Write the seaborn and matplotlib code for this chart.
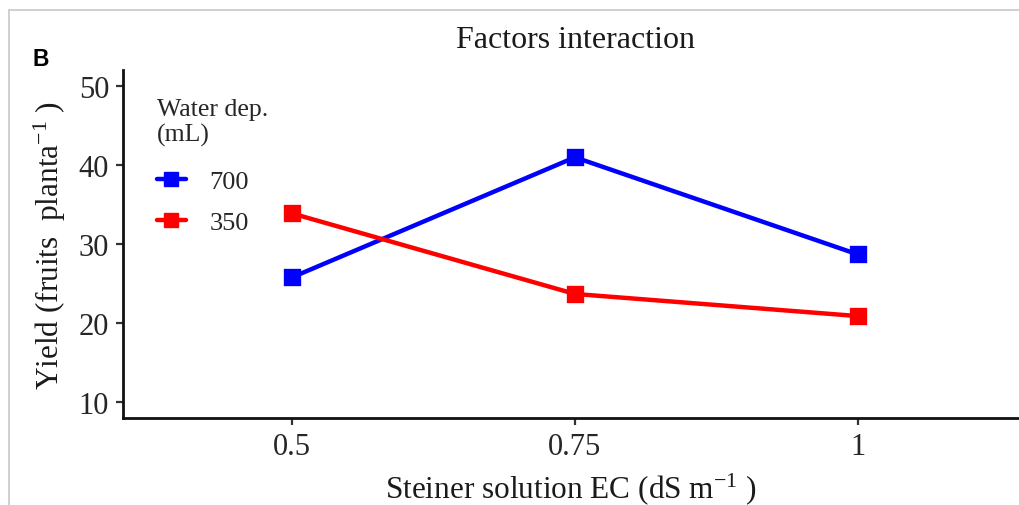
import matplotlib
matplotlib.use("Agg")
import matplotlib.pyplot as plt
from matplotlib.lines import Line2D
import seaborn as sns
import pandas as pd

# Steiner solution EC levels (dS m-1) and fruit yield per water depth
ec_levels = ["0.5", "0.75", "1"]
water_levels = ["700", "350"]
yield_700 = [25.8, 41.0, 28.7]
yield_350 = [33.9, 23.7, 20.9]
series_colors = {"700": "#0000ff", "350": "#ff0000"}

df = pd.DataFrame({
    "EC": ec_levels * 2,
    "Water": ["700"] * 3 + ["350"] * 3,
    "Yield": yield_700 + yield_350,
})

sns.set_theme(style="ticks")
plt.rcParams["font.family"] = ["Liberation Serif", "DejaVu Serif"]
plt.rcParams["mathtext.fontset"] = "custom"
plt.rcParams["mathtext.rm"] = "Liberation Serif"
plt.rcParams["mathtext.it"] = "Liberation Serif:italic"

W, H = 1019, 506
fig = plt.figure(figsize=(W / 100, H / 100), dpi=100)
ax = fig.add_axes([123 / W, 1 - 419 / H, 1 - 123 / W, (419 - 71.4) / H])

sns.pointplot(data=df, x="EC", y="Yield", hue="Water", order=ec_levels,
              hue_order=water_levels, palette=series_colors, markers="s",
              linestyles="-", errorbar=None, markersize=9.5, linewidth=3.2,
              ax=ax, legend=False)

ax.set_xlim(-0.597, 2.569)
ax.set_ylim(8, 52)
ax.set_yticks([10, 20, 30, 40, 50])
ax.set_xticks(range(len(ec_levels)))
ax.set_xticklabels(ec_levels)

for side in ("top", "right"):
    ax.spines[side].set_visible(False)
for side in ("left", "bottom"):
    ax.spines[side].set_linewidth(2)
    ax.spines[side].set_color("#111111")
ax.tick_params(axis="both", length=5, width=1.6, color="#333333",
               labelsize=22, labelcolor="#262626", pad=5)

ax.set_xlabel("Steiner solution EC (dS m$^{-1}$ )", fontsize=22.5,
              color="#1a1a1a", labelpad=7)
ax.set_ylabel("Yield (fruits  planta$^{-1}$ )", fontsize=22.5,
              color="#1a1a1a", labelpad=8)

fig.text(575 / W, 1 - 40 / H, "Factors interaction", ha="center",
         va="center", fontsize=23, color="#1a1a1a")
fig.text(32 / W, 1 - 59 / H, "B", ha="left", va="center", fontsize=16.5,
         fontweight="bold", family="Liberation Sans", color="black")

handles = [Line2D([0], [0], color=series_colors[w], lw=3.2, marker="s",
                  markersize=9.5) for w in water_levels]
leg = ax.legend(handles, water_levels, title="Water dep.\n(mL)",
                frameon=False, loc="upper left",
                bbox_to_anchor=(146 / W, 1 - 88 / H),
                bbox_transform=fig.transFigure, fontsize=19,
                title_fontsize=18.5, handlelength=1.1, handletextpad=0.9,
                labelspacing=0.65, borderaxespad=0)
leg._legend_box.align = "left"
leg._legend_box.sep = 17

# thin grey frame along the top and left edges
fig.add_artist(Line2D([9 / W, 1], [1 - 11 / H, 1 - 11 / H],
                      transform=fig.transFigure, color="#c8c8c8", lw=1.2))
fig.add_artist(Line2D([9 / W, 9 / W], [0, 1 - 11 / H],
                      transform=fig.transFigure, color="#c8c8c8", lw=1.2))

fig.savefig("out.png", dpi=100)
